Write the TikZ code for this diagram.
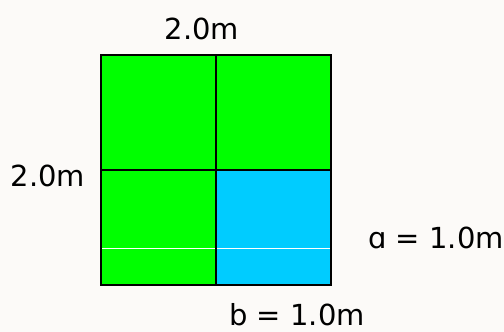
\documentclass[tikz,border=0pt]{standalone}
\usepackage{fontspec}
\setmainfont{DejaVu Sans}
\usepackage{tikz}
\usetikzlibrary{positioning}
\usepackage{xcolor}
\definecolor{paper}{RGB}{252,250,248}
\definecolor{grassgreen}{RGB}{0,255,0}
\definecolor{skycyan}{RGB}{0,204,255}

\begin{document}
\begin{tikzpicture}[x=1pt,y=-1pt,
  cell/.style={minimum size=115pt,inner sep=0pt,outer sep=0pt,anchor=north west},
  grid/.style={line width=1.6pt,black},
  dim/.style={font=\fontsize{29}{32}\selectfont,inner sep=0pt}]
\fill[paper] (0,0) rectangle (504,332);
\useasboundingbox (0,0) rectangle (504,332);
% the four quarters
\node[cell,fill=grassgreen] (tl) at (101,55) {};
\node[cell,fill=grassgreen] (tr) at (216,55) {};
\node[cell,fill=grassgreen] (bl) at (101,170) {};
\node[cell,fill=skycyan] (br) at (216,170) {};
\coordinate (wl) at (101,248);
\coordinate (wr) at (331,248);
\draw[white,line width=0.9pt] (wl) -- (wr);
\draw[grid] (tl.north west) rectangle (br.south east);
\draw[grid] (tl.north east) -- (br.south west);
\draw[grid] (tl.south west) -- (br.north east);
% dimensions
\node[dim] (top) at (202,29) {2.0m};
\node[dim] (side) at (48,176) {2.0m};
\node[dim] (alen) at (436,238) {ɑ = 1.0m};
\node[dim] (blen) at (297,315) {b = 1.0m};
\end{tikzpicture}
\end{document}
